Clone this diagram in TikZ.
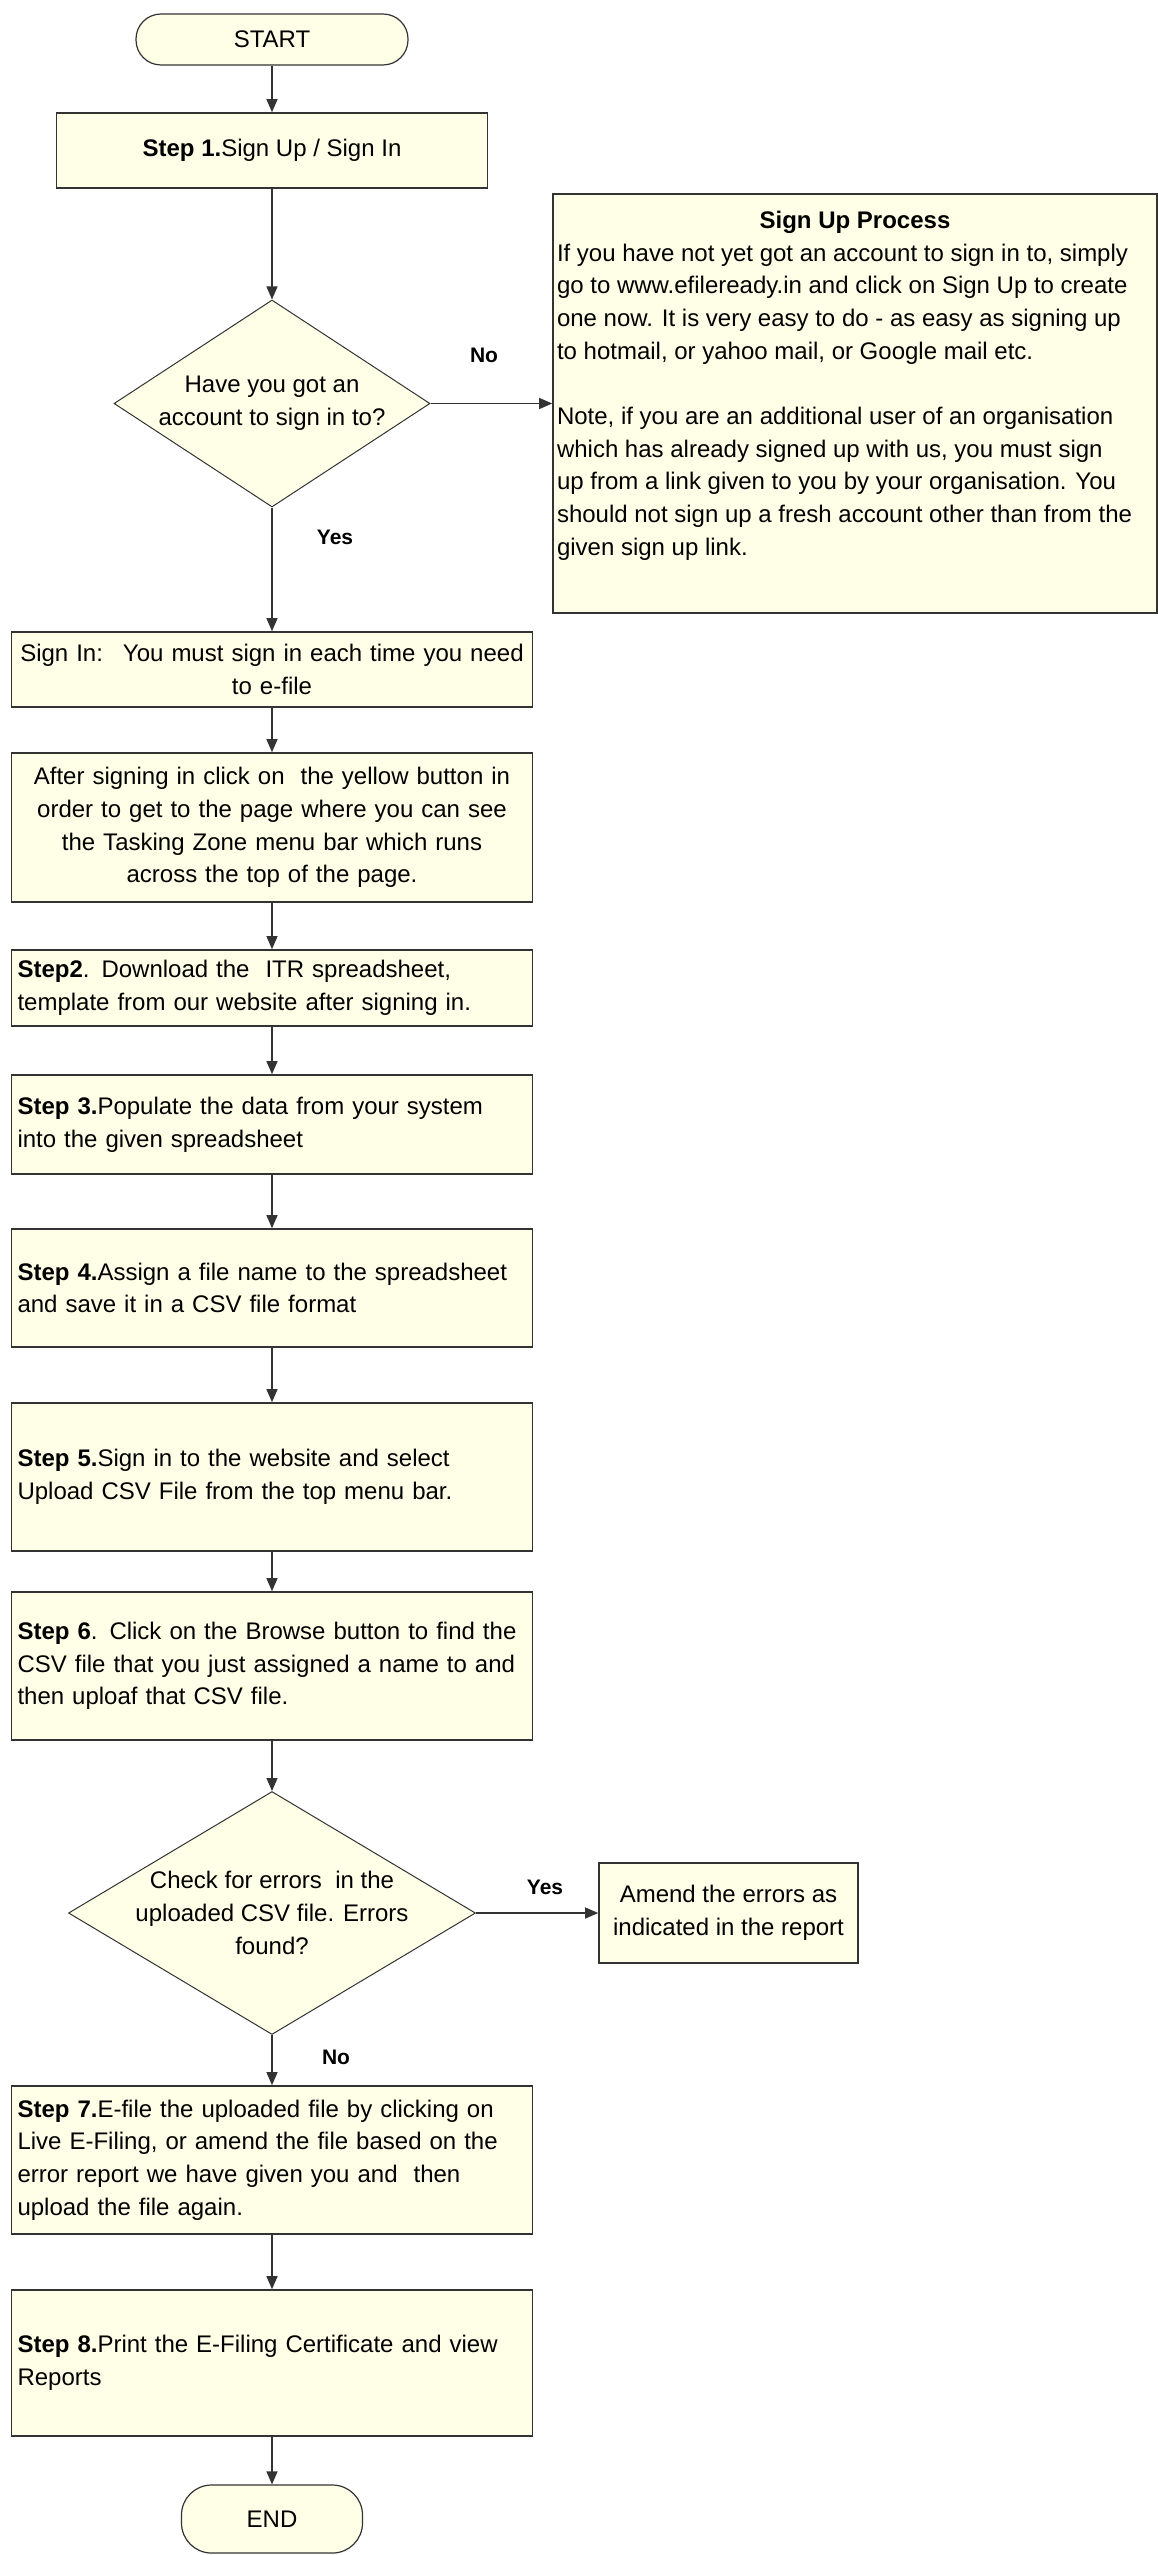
\documentclass[tikz,border=0pt]{standalone}
\usepackage{fontspec}
\setmainfont{Liberation Sans}
\usetikzlibrary{shapes.geometric,arrows.meta}
\definecolor{boxfill}{RGB}{255,255,232}
\definecolor{linegray}{RGB}{51,51,51}
\begin{document}
\begin{tikzpicture}[x=1pt,y=-1pt]
            \tikzset{every node/.style={font=\fontsize{24pt}{32.7pt}\selectfont},
              box/.style={draw=linegray, line width=1.6pt, fill=boxfill, inner xsep=6pt, inner ysep=0pt, minimum width=521pt},
              stepbox/.style={box, text width=509pt, align=left},
              midbox/.style={box, text width=509pt, align=center},
              term/.style={draw=linegray, line width=1.2pt, fill=boxfill, rounded corners=25pt, minimum height=51pt},
              decision/.style={diamond, draw=linegray, line width=1pt, fill=boxfill, inner sep=0pt},
              lbl/.style={font=\fontsize{21pt}{24pt}\selectfont\bfseries},
              arrow/.style={draw=linegray, line width=1.2pt, ->, >={Triangle[length=13pt,width=11pt]}}}
            \fill[white] (0,0) rectangle (1158,2555);
            \node[term, minimum width=272pt] (start) at (272,39.5) {START};
            \node[box, minimum width=431pt, minimum height=75pt] (step1) at (272,150.5) {\textbf{Step 1.}Sign Up / Sign In};
            \node[decision, minimum width=316pt, minimum height=207pt,
              label={[align=center]center:Have you got an\\account to sign in to?}] (q1) at (272,403.5) {};
            \node[box, minimum width=604pt, minimum height=419pt, inner sep=0pt] (signup) at (855,403.5)
              {\parbox[c][419pt][t]{596pt}{\vspace*{17pt}%
              {\centering\textbf{Sign Up Process}\par}
              \raggedright
              If you have not yet got an account to sign in to, simply\\
              go to www.efileready.in and click on Sign Up to create\\
              one now. It is very easy to do - as easy as signing up\\
              to hotmail, or yahoo mail, or Google mail etc.\par
              \vspace{32.7pt}
              Note, if you are an additional user of an organisation\\
              which has already signed up with us, you must sign\\
              up from a link given to you by your organisation. You\\
              should not sign up a fresh account other than from the\\
              given sign up link.\par}};
            \node[midbox, minimum height=75pt] (signin) at (272,669.5) {Sign In:~ You must sign in each time you need\\to e-file};
            \node[midbox, minimum height=149pt] (after) at (272,827.5) {After signing in click on~ the yellow button in\\order to get to the page where you can see\\the Tasking Zone menu bar which runs\\across the top of the page.};
            \node[stepbox, minimum height=76pt] (step2) at (272,988) {\textbf{Step2}. Download the~ ITR spreadsheet,\\template from our website after signing in.};
            \node[stepbox, minimum height=99pt] (step3) at (272,1124.5) {\textbf{Step 3.}Populate the data from your system\\into the given spreadsheet};
            \node[stepbox, minimum height=118pt] (step4) at (272,1288) {\textbf{Step 4.}Assign a file name to the spreadsheet\\and save it in a CSV file format};
            \node[stepbox, minimum height=148pt] (step5) at (272,1477) {\textbf{Step 5.}Sign in to the website and select\\Upload CSV File from the top menu bar.};
            \node[stepbox, minimum height=148pt] (step6) at (272,1666) {\textbf{Step 6}. Click on the Browse button to find the\\CSV file that you just assigned a name to and\\then uploaf that CSV file.};
            \node[decision, minimum width=407pt, minimum height=243pt,
              label={[align=center]center:Check for errors~ in the\\uploaded CSV file. Errors\\found?}] (q2) at (272,1913) {};
            \node[box, minimum width=259pt, minimum height=100pt, align=center] (amend) at (728.5,1913) {Amend the errors as\\indicated in the report};
            \node[stepbox, minimum height=148pt] (step7) at (272,2160) {\textbf{Step 7.}E-file the uploaded file by clicking on\\Live E-Filing, or amend the file based on the\\error report we have given you and~ then\\upload the file again.};
            \node[stepbox, minimum height=146pt] (step8) at (272,2363) {\textbf{Step 8.}Print the E-Filing Certificate and view\\Reports};
            \node[term, minimum width=181pt, minimum height=68pt, rounded corners=30pt] (stop) at (272,2519) {END};
            \node[lbl] (no1) at (484,355) {No};
            \node[lbl] (yes1) at (335,537) {Yes};
            \node[lbl] (yes2) at (545,1887) {Yes};
            \node[lbl] (no2) at (336,2057) {No};
            \draw[arrow] (start) -- (step1);
            \draw[arrow] (step1) -- (q1);
            \draw[arrow] (q1) -- (signup);
            \draw[arrow] (q1) -- (signin);
            \draw[arrow] (signin) -- (after);
            \draw[arrow] (after) -- (step2);
            \draw[arrow] (step2) -- (step3);
            \draw[arrow] (step3) -- (step4);
            \draw[arrow] (step4) -- (step5);
            \draw[arrow] (step5) -- (step6);
            \draw[arrow] (step6) -- (q2);
            \draw[arrow] (q2) -- (amend);
            \draw[arrow] (q2) -- (step7);
            \draw[arrow] (step7) -- (step8);
            \draw[arrow] (step8) -- (stop);
        \end{tikzpicture}
\end{document}
